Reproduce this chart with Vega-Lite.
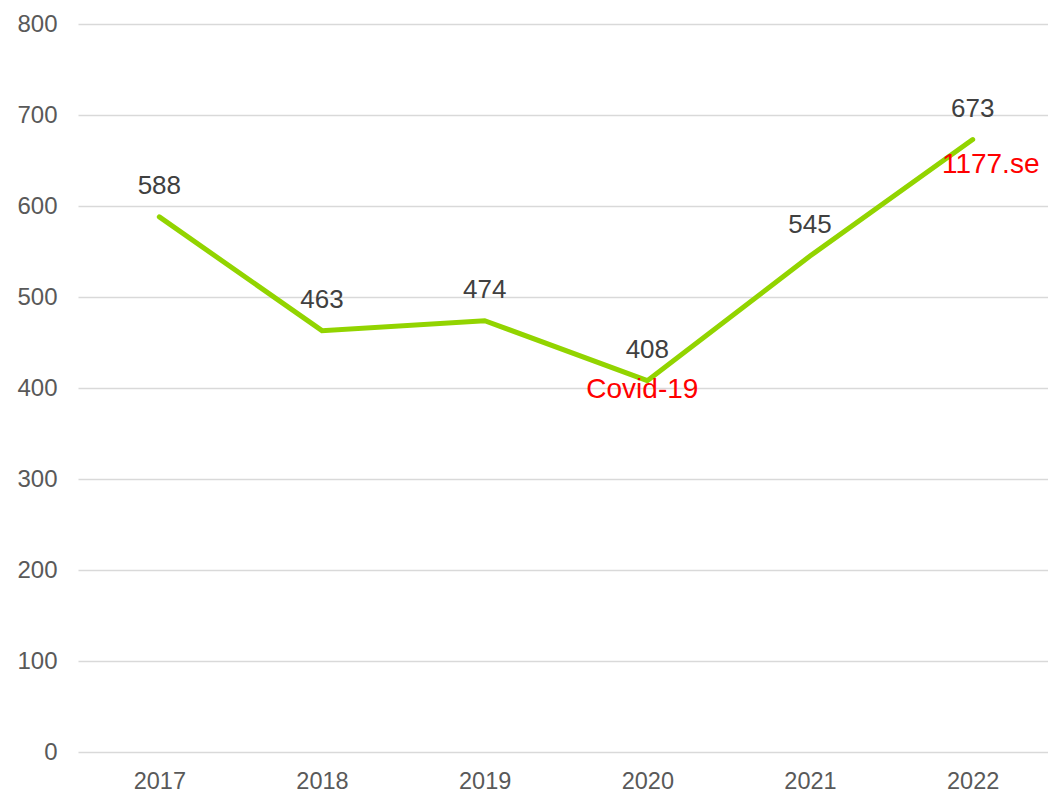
{
  "$schema": "https://vega.github.io/schema/vega-lite/v6.json",
  "autosize": {"type": "none"},
  "padding": {"left": 78, "top": 24, "right": 0, "bottom": 38},
  "width": 976,
  "height": 728,
  "background": "white",
  "config": {
    "view": {"stroke": null},
    "font": "Liberation Sans"
  },
  "datasets": {
    "main": [
      {"year": "2017", "value": 588},
      {"year": "2018", "value": 463},
      {"year": "2019", "value": 474},
      {"year": "2020", "value": 408},
      {"year": "2021", "value": 545},
      {"year": "2022", "value": 673}
    ],
    "notes": [
      {"year": "2020", "value": 408, "label": "Covid-19"},
      {"year": "2022", "value": 673, "label": "1177.se"}
    ]
  },
  "encoding": {
    "x": {
      "field": "year",
      "type": "ordinal",
      "scale": {"paddingInner": 0, "paddingOuter": 0.5},
      "axis": {
        "title": null,
        "labelAngle": 0,
        "ticks": false,
        "domain": false,
        "labelFontSize": 23.5,
        "labelColor": "#595959",
        "labelPadding": 17,
        "labelFont": "Liberation Sans"
      }
    },
    "y": {
      "field": "value",
      "type": "quantitative",
      "scale": {"domain": [0, 800]},
      "axis": {
        "title": null,
        "values": [0, 100, 200, 300, 400, 500, 600, 700, 800],
        "ticks": false,
        "domain": false,
        "gridColor": "#d9d9d9",
        "gridWidth": 1.5,
        "labelFontSize": 24,
        "labelColor": "#595959",
        "labelPadding": 21,
        "labelFont": "Liberation Sans"
      }
    }
  },
  "layer": [
    {
      "data": {"name": "main"},
      "mark": {"type": "line", "color": "#92d400", "strokeWidth": 5, "strokeCap": "round"}
    },
    {
      "data": {"name": "main"},
      "mark": {"type": "text", "dy": -31, "fontSize": 26, "color": "#404040", "baseline": "middle"},
      "encoding": {"text": {"field": "value", "type": "quantitative"}}
    },
    {
      "data": {"name": "notes"},
      "transform": [{"filter": "datum.label == 'Covid-19'"}],
      "mark": {"type": "text", "dx": -5, "dy": 9, "fontSize": 28, "color": "#ff0000", "baseline": "middle"},
      "encoding": {"text": {"field": "label", "type": "nominal"}}
    },
    {
      "data": {"name": "notes"},
      "transform": [{"filter": "datum.label == '1177.se'"}],
      "mark": {"type": "text", "dx": 18, "dy": 25, "fontSize": 28, "color": "#ff0000", "baseline": "middle"},
      "encoding": {"text": {"field": "label", "type": "nominal"}}
    }
  ]
}
